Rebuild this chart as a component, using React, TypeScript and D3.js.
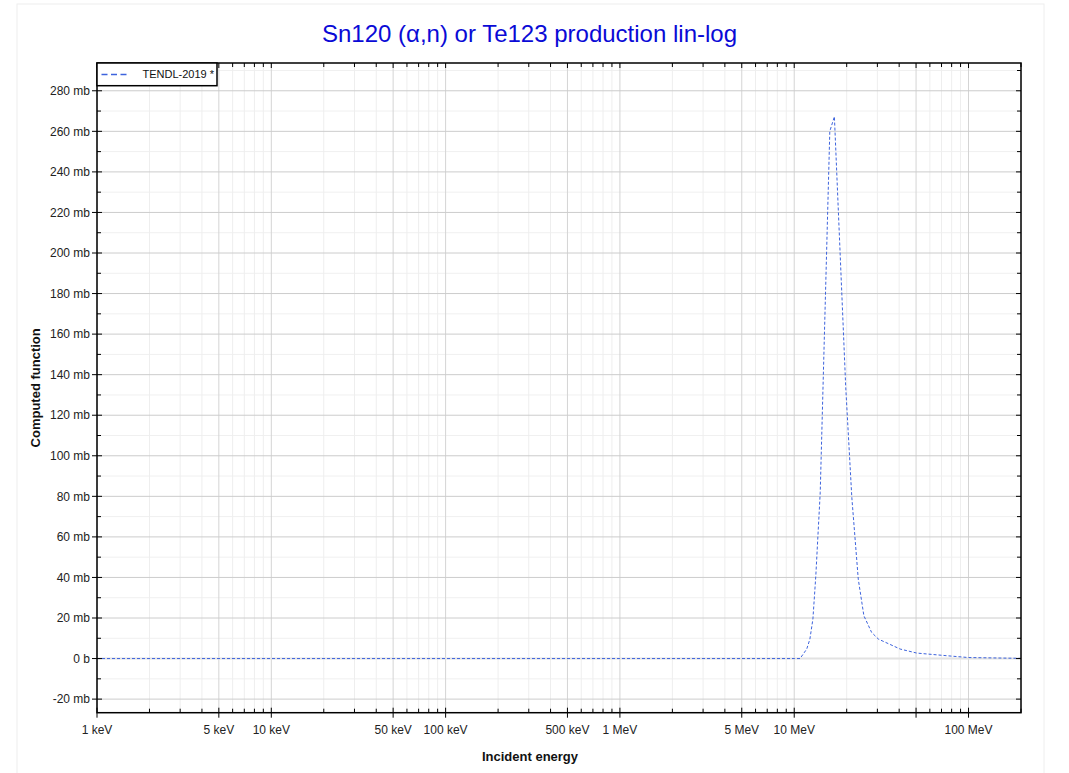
import React from "react";
import * as d3 from "d3";

const TITLE = "Sn120 (α,n) or Te123 production lin-log";
const SERIES_NAME = "TENDL-2019 *";
// energy in eV
const energies = [1e3, 1e4, 1e5, 1e6, 1e7, 1.08e7, 1.18e7, 1.23e7, 1.28e7, 1.33e7, 1.41e7, 1.6e7, 1.7e7, 1.975e7, 2.14e7, 2.33e7, 2.51e7, 2.78e7, 3.04e7, 4.05e7, 5.05e7, 7.5e7, 1e8, 2e8];
// cross section in mb
const xsValues = [0, 0, 0, 0, 0, 0, 4.7, 9.6, 19.5, 40.8, 82, 260, 267.3, 133.7, 79.5, 39.2, 21.1, 12.9, 9.6, 4.7, 2.7, 1.4, 0.5, 0.1];

const xMajorLabeled = [1e3, 5e3, 1e4, 5e4, 1e5, 5e5, 1e6, 5e6, 1e7, 1e8];
const xMajorUnlabeled = [5e7];
const xLabels = ["1 keV", "5 keV", "10 keV", "50 keV", "100 keV", "500 keV", "1 MeV", "5 MeV", "10 MeV", "100 MeV"];
const yMajor = [-20, 0, 20, 40, 60, 80, 100, 120, 140, 160, 180, 200, 220, 240, 260, 280];
const yLabels = ["-20 mb", "0 b", "20 mb", "40 mb", "60 mb", "80 mb", "100 mb", "120 mb", "140 mb", "160 mb", "180 mb", "200 mb", "220 mb", "240 mb", "260 mb", "280 mb"];
const yMinor = [-10, 10, 30, 50, 70, 90, 110, 130, 150, 170, 190, 210, 230, 250, 270, 290];

const W = 1069, H = 773;
const L = 97, R = 1021, T = 63, B = 712.7;

export default function App() {
  const x = d3.scaleLog().domain([1e3, 2e8]).range([L, R]);
  const y = d3.scaleLinear().domain([-26.7, 293.7]).range([B, T]);

  const minorX: number[] = [];
  for (let d = 1e3; d < 2e8; d *= 10) {
    for (let k = 2; k <= 9; k++) {
      const v = d * k;
      if (v <= 2e8 && k !== 5) minorX.push(v);
    }
  }
  const allMajorX = [...xMajorLabeled, ...xMajorUnlabeled];

  const data = energies.map((e, i) => [e, xsValues[i]] as [number, number]);
  const line = d3.line<[number, number]>().x(d => x(d[0])).y(d => y(d[1]));

  const font = "'Liberation Sans', Arial, sans-serif";

  return (
    <svg width={W} height={H} style={{ position: "absolute", left: 0, top: 0, background: "#fff" }} fontFamily={font}>
      <rect x={17} y={4} width={1027} height={H + 10} fill="none" stroke="#eeeeee" strokeWidth={1} />
      <text x={529.5} y={42} textAnchor="middle" fontSize={24} fill="#0a0ad6">{TITLE}</text>

      {/* grid */}
      {yMinor.map(v => (
        <line key={"ym" + v} x1={L} x2={R} y1={y(v)} y2={y(v)} stroke="#f0f0f0" strokeWidth={1} />
      ))}
      {minorX.map(v => (
        <line key={"xm" + v} x1={x(v)} x2={x(v)} y1={T} y2={B} stroke="#eeeeee" strokeWidth={1} />
      ))}
      {allMajorX.map(v => (
        <line key={"xM" + v} x1={x(v)} x2={x(v)} y1={T} y2={B} stroke="#d4d4d4" strokeWidth={1} />
      ))}
      {yMajor.map(v => (
        <line key={"yM" + v} x1={L} x2={R} y1={y(v)} y2={y(v)} stroke={v === 0 ? "#e2e2e2" : "#cccccc"} strokeWidth={v === 0 ? 2 : 1} />
      ))}

      {/* curve */}
      <path d={line(data) || ""} fill="none" stroke="#3d63dd" strokeWidth={1} strokeDasharray="3,2" />

      {/* axes frame */}
      <rect x={L} y={T} width={R - L} height={B - T} fill="none" stroke="#000" strokeWidth={1.5} />

      {/* y ticks */}
      {yMajor.map((v, i) => (
        <g key={"yt" + v}>
          <line x1={L - 5} x2={L + 5} y1={y(v)} y2={y(v)} stroke="#000" strokeWidth={1} />
          <line x1={R - 5} x2={R} y1={y(v)} y2={y(v)} stroke="#000" strokeWidth={1} />
          <text x={L - 7} y={y(v)} dy="0.35em" textAnchor="end" fontSize={12} fill="#222">{yLabels[i]}</text>
        </g>
      ))}
      {yMinor.filter(v => y(v) > T).map(v => (
        <g key={"ymt" + v}>
          <line x1={L} x2={L + 4} y1={y(v)} y2={y(v)} stroke="#000" strokeWidth={1} />
          <line x1={R - 4} x2={R} y1={y(v)} y2={y(v)} stroke="#000" strokeWidth={1} />
        </g>
      ))}

      {/* x ticks */}
      {allMajorX.map(v => (
        <g key={"xt" + v}>
          <line x1={x(v)} x2={x(v)} y1={B - 5} y2={B + 5} stroke="#000" strokeWidth={1} />
          <line x1={x(v)} x2={x(v)} y1={T} y2={T + 5} stroke="#000" strokeWidth={1} />
        </g>
      ))}
      {minorX.map(v => (
        <g key={"xmt" + v}>
          <line x1={x(v)} x2={x(v)} y1={B - 4} y2={B} stroke="#000" strokeWidth={1} />
          <line x1={x(v)} x2={x(v)} y1={T} y2={T + 4} stroke="#000" strokeWidth={1} />
        </g>
      ))}
      {xMajorLabeled.map((v, i) => (
        <text key={"xl" + v} x={x(v)} y={734} textAnchor="middle" fontSize={12} fill="#222">{xLabels[i]}</text>
      ))}

      {/* axis titles */}
      <text x={530} y={761} textAnchor="middle" fontSize={13} fontWeight="bold" fill="#111">Incident energy</text>
      <text transform={`translate(40,${(T + B) / 2}) rotate(-90)`} textAnchor="middle" fontSize={13} fontWeight="bold" fill="#111">Computed function</text>

      {/* legend */}
      <rect x={L} y={T} width={120} height={22.7} fill="#fff" stroke="#000" strokeWidth={1.5} />
      <line x1={101.5} x2={129} y1={74.5} y2={74.5} stroke="#3d63dd" strokeWidth={1.5} strokeDasharray="6,3.5" />
      <text x={142.5} y={74.5} dy="0.35em" fontSize={11} fill="#111">{SERIES_NAME}</text>
    </svg>
  );
}
